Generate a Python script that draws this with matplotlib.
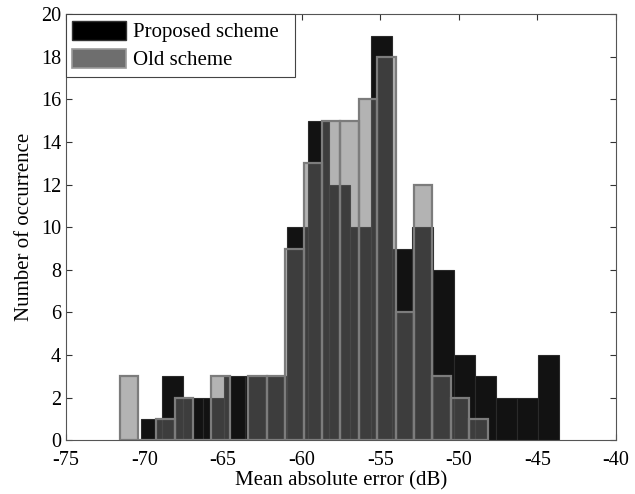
import numpy as np
import matplotlib
matplotlib.use('Agg')
import matplotlib.pyplot as plt
from matplotlib.patches import Patch

# bin centres (dB) and counts, 20 bins per scheme
proposed_x = [-69.58, -68.25, -66.92, -65.59, -64.26, -62.93, -61.60, -60.27, -58.94, -57.61,
              -56.28, -54.95, -53.62, -52.29, -50.96, -49.63, -48.30, -46.97, -45.64, -44.31]
proposed_n = [1, 3, 2, 2, 3, 3, 3, 10, 15, 12, 10, 19, 9, 10, 8, 4, 3, 2, 2, 4]

old_x = [-71.01, -69.84, -68.67, -67.50, -66.33, -65.16, -63.99, -62.81, -61.64, -60.47,
         -59.30, -58.13, -56.96, -55.79, -54.61, -53.44, -52.27, -51.10, -49.93, -48.76]
old_n = [3, 0, 1, 2, 0, 3, 0, 3, 3, 9, 13, 15, 15, 16, 18, 6, 12, 3, 2, 1]

xticks = [-75, -70, -65, -60, -55, -50, -45, -40]
yticks = list(range(0, 21, 2))

plt.rcParams['font.family'] = ['Liberation Serif', 'DejaVu Serif']
plt.rcParams['font.size'] = 14.5
plt.rcParams['axes.unicode_minus'] = False

fig = plt.figure(figsize=(6.35, 4.94), dpi=100)
ax = fig.add_axes([0.104, 0.109, 0.866, 0.862])

w_p = np.diff(proposed_x).mean()
w_o = np.diff(old_x).mean()

ax.bar(proposed_x, proposed_n, width=w_p, color='#121212', edgecolor='#2a2a2a', linewidth=0.8, zorder=2)
# old scheme: translucent face over the black bars, opaque grey outline
ax.bar(old_x, old_n, width=w_o, facecolor=(0.41, 0.41, 0.41, 0.5), edgecolor='#7c7c7c', linewidth=1.6, zorder=3)

ax.set_xlim(-75, -40)
ax.set_ylim(0, 20)
ax.set_xticks(xticks)
ax.set_yticks(yticks)
ax.tick_params(direction='in', top=True, right=True, length=4, width=0.8, colors='#333333', labelcolor='black')
ax.tick_params(axis='x', pad=8)
for s in ax.spines.values():
    s.set_color('#555555')
    s.set_linewidth(0.8)

ax.set_xlabel('Mean absolute error (dB)', labelpad=1, fontsize=15)
ax.set_ylabel('Number of occurrence', labelpad=5, fontsize=15)

handles = [Patch(facecolor='black', edgecolor='#333333', label='Proposed scheme  '),
           Patch(facecolor='#6e6e6e', edgecolor='#9a9a9a', linewidth=1.2, label='Old scheme')]
leg = ax.legend(handles=handles, loc='upper left', borderaxespad=0, fancybox=False, fontsize=15,
                handlelength=2.6, handleheight=1.05, handletextpad=0.3, labelspacing=0.3,
                borderpad=0.3, framealpha=1, edgecolor='#444444')
leg.get_frame().set_linewidth(0.8)
leg.set_zorder(5)

fig.savefig('out.png', dpi=100)
